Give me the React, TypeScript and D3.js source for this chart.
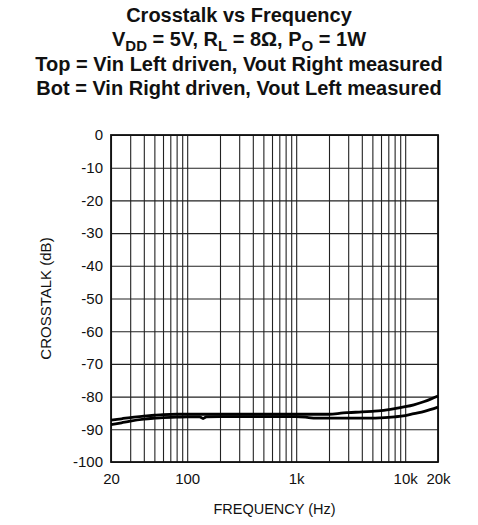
import { useEffect, useRef } from "react";
import * as d3 from "d3";

// frequency points (Hz)
const FREQ = [
  20, 25, 30, 40, 50, 60, 80, 100, 130, 140, 150, 200, 300, 500, 800, 1000,
  1300, 1500, 2000, 2700, 3000, 4000, 5000, 6000, 8000, 10000, 12000, 15000,
  20000,
];
// Top = Vin Left driven, Vout Right measured
const TOP_DB = [
  -87.2, -86.8, -86.4, -86.0, -85.7, -85.5, -85.4, -85.4, -85.4, -85.4, -85.4,
  -85.4, -85.4, -85.4, -85.4, -85.4, -85.4, -85.4, -85.4, -85.0, -84.9, -84.7,
  -84.5, -84.3, -83.7, -83.1, -82.5, -81.5, -79.8,
];
// Bot = Vin Right driven, Vout Left measured
const BOT_DB = [
  -88.6, -88.0, -87.5, -86.9, -86.6, -86.4, -86.3, -86.2, -86.2, -86.7, -86.2,
  -86.1, -86.1, -86.1, -86.1, -86.1, -86.4, -86.6, -86.6, -86.6, -86.6, -86.6,
  -86.6, -86.5, -86.2, -85.8, -85.2, -84.5, -83.2,
];

const X_TICKS = [20, 100, 1000, 10000, 20000];
const X_TICK_LABELS = ["20", "100", "1k", "10k", "20k"];
const Y_TICKS = [0, -10, -20, -30, -40, -50, -60, -70, -80, -90, -100];

const W = 478;
const H = 525;
const M = { left: 111, right: 40, top: 135, bottom: 63 };
const FONT = "'Liberation Sans', Arial, Helvetica, sans-serif";

const App = () => {
  const svgRef = useRef<SVGSVGElement>(null);

  useEffect(() => {
    document.body.style.margin = "0";
    const svg = d3.select(svgRef.current);
    svg.selectAll("*").remove();

    const iw = W - M.left - M.right;
    const ih = H - M.top - M.bottom;

    const x = d3.scaleLog().domain([20, 20000]).range([M.left, M.left + iw]);
    const y = d3.scaleLinear().domain([-100, 0]).range([M.top + ih, M.top]);

    // title lines
    const title = svg
      .append("g")
      .attr("font-family", FONT)
      .attr("font-weight", "bold")
      .attr("font-size", 20)
      .attr("fill", "#111")
      .attr("text-anchor", "middle");
    title.append("text").attr("x", 239).attr("y", 22).text("Crosstalk vs Frequency");
    const t2 = title.append("text").attr("x", 239).attr("y", 46);
    const parts: [string, boolean][] = [
      ["V", false],
      ["DD", true],
      [" = 5V, R", false],
      ["L", true],
      [" = 8\u03A9, P", false],
      ["O", true],
      [" = 1W", false],
    ];
    parts.forEach(([s, sub], i) => {
      const ts = t2.append("tspan").text(s);
      if (sub) ts.attr("font-size", 15).attr("dy", 5);
      else if (i > 0) ts.attr("dy", -5);
    });
    title.append("text").attr("x", 239).attr("y", 71).text("Top = Vin Left driven, Vout Right measured");
    title.append("text").attr("x", 239).attr("y", 95).text("Bot = Vin Right driven, Vout Left measured");

    // vertical grid (log decades)
    svg
      .append("g")
      .attr("transform", `translate(0,${M.top + ih})`)
      .call(d3.axisBottom(x).tickValues(x.ticks()).tickSize(-ih).tickFormat(() => ""))
      .call((g) => g.select(".domain").remove())
      .call((g) => g.selectAll("line").attr("stroke", "#222").attr("stroke-width", 1.1));

    // horizontal grid
    svg
      .append("g")
      .attr("transform", `translate(${M.left},0)`)
      .call(d3.axisLeft(y).tickValues(Y_TICKS).tickSize(-iw).tickFormat(() => ""))
      .call((g) => g.select(".domain").remove())
      .call((g) => g.selectAll("line").attr("stroke", "#222").attr("stroke-width", 1.1));

    // border
    svg
      .append("rect")
      .attr("x", M.left)
      .attr("y", M.top)
      .attr("width", iw)
      .attr("height", ih)
      .attr("fill", "none")
      .attr("stroke", "#111")
      .attr("stroke-width", 1.8);

    // tick labels
    svg
      .append("g")
      .attr("transform", `translate(0,${M.top + ih})`)
      .call(
        d3
          .axisBottom(x)
          .tickValues(X_TICKS)
          .tickSize(0)
          .tickPadding(11)
          .tickFormat((_, i) => X_TICK_LABELS[i])
      )
      .call((g) => g.select(".domain").remove())
      .call((g) =>
        g.selectAll("text").attr("font-family", FONT).attr("font-size", 15).attr("fill", "#111")
      );

    svg
      .append("g")
      .attr("transform", `translate(${M.left},0)`)
      .call(
        d3
          .axisLeft(y)
          .tickValues(Y_TICKS)
          .tickSize(0)
          .tickPadding(8)
          .tickFormat((d) => String(d))
      )
      .call((g) => g.select(".domain").remove())
      .call((g) =>
        g.selectAll("text").attr("font-family", FONT).attr("font-size", 15).attr("fill", "#111")
      );

    // axis titles
    svg
      .append("text")
      .attr("x", M.left + iw / 2)
      .attr("y", 514)
      .attr("text-anchor", "middle")
      .attr("font-family", FONT)
      .attr("font-size", 14.5)
      .attr("fill", "#111")
      .text("FREQUENCY (Hz)");

    svg
      .append("text")
      .attr("transform", `translate(51,${M.top + ih / 2}) rotate(-90)`)
      .attr("text-anchor", "middle")
      .attr("font-family", FONT)
      .attr("font-size", 15)
      .attr("fill", "#111")
      .text("CROSSTALK (dB)");

    // curves
    const line = d3
      .line<number>()
      .x((_, i) => x(FREQ[i]))
      .y((d) => y(d))
      .curve(d3.curveMonotoneX);

    [TOP_DB, BOT_DB].forEach((series) => {
      svg
        .append("path")
        .attr("d", line(series))
        .attr("fill", "none")
        .attr("stroke", "#000")
        .attr("stroke-width", 2.8)
        .attr("stroke-linejoin", "round");
    });
  }, []);

  return (
    <svg
      ref={svgRef}
      width={W}
      height={H}
      style={{ position: "absolute", left: 0, top: 0, background: "#fff" }}
    />
  );
};

export default App;
